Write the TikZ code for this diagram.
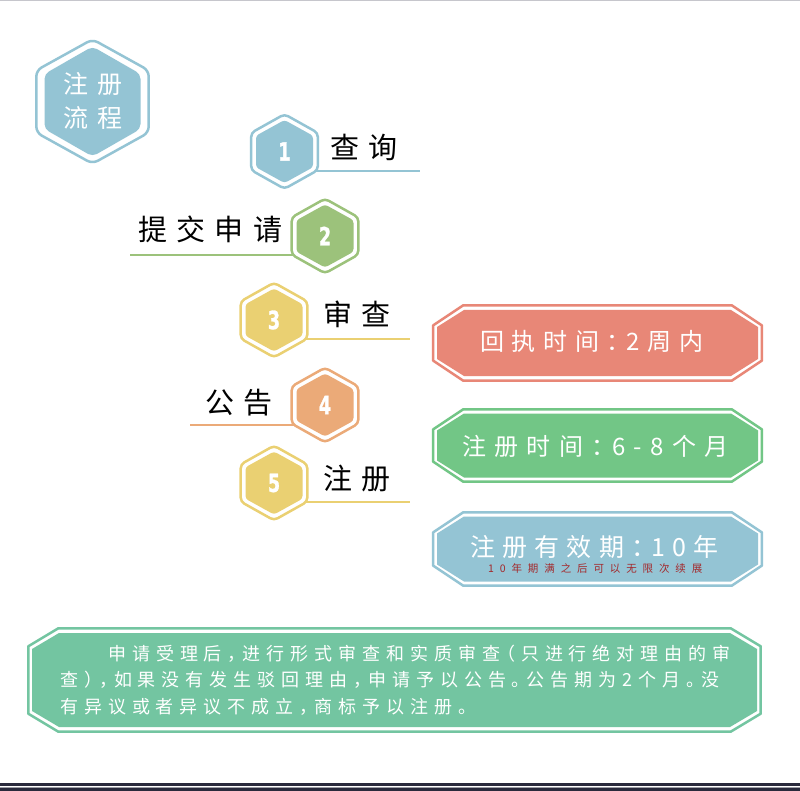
\documentclass[tikz,border=0pt]{standalone}
\usepackage{fontspec}
\newfontfamily\cjk{Noto Sans CJK SC}
\newfontfamily\numfont{DejaVu Sans}[FakeStretch=0.7,BoldFeatures={FakeBold=1.2}]
\definecolor{cblue}{HTML}{94C4D4}
\definecolor{cgreen}{HTML}{9CC27B}
\definecolor{cyellow}{HTML}{EAD072}
\definecolor{corange}{HTML}{EBAA78}
\definecolor{cred}{HTML}{E88777}
\definecolor{cgbox}{HTML}{72C686}
\definecolor{cteal}{HTML}{73C5A1}
\definecolor{cdarkred}{HTML}{A3282B}
\definecolor{cbar}{HTML}{2A2A3C}
\definecolor{ctop}{HTML}{C6C6CC}
\newcommand\hexpath[4]{\path[#4] (#1) ++(0,-#3) -- ++(#2,#3/2) -- ++(0,#3) -- ++(-#2,#3/2) -- ++(-#2,-#3/2) -- ++(0,-#3) -- cycle;}
\newcommand\octpath[6]{\path[#6] (#1) ++(-#2+#4,-#3) -- ++(2*#2-2*#4,0) -- ++(#4,#5) -- ++(0,2*#3-2*#5) -- ++(-#4,#5) -- ++(-2*#2+2*#4,0) -- ++(-#4,-#5) -- ++(0,-2*#3+2*#5) -- cycle;}
\tikzset{
  outline/.style={fill=white,draw=#1,line width=2.5pt,line join=round},
  infill/.style={fill=#1},
  sline/.style={draw=#1,line width=2.5pt},
  lbl/.style={inner sep=0pt,anchor=base west,text=black,font=\cjk\fontsize{29}{29}\selectfont\addfontfeatures{LetterSpace=32}},
  num/.style={inner sep=0pt,text=white,font=\numfont\bfseries\fontsize{25}{25}\selectfont},
  wtxt/.style={inner sep=0pt,anchor=base west,text=white},
}
\begin{document}
\begin{tikzpicture}[x=1pt,y=-1pt]
\useasboundingbox (0,0) rectangle (800,791);
\fill[white] (0,0) rectangle (800,791);
\fill[ctop] (0,0) rectangle (800,1.3);
\fill[cbar] (0,783) rectangle (800,786);
\fill[cbar!45] (0,787) rectangle (800,788);
\fill[cbar] (0,788) rectangle (800,791);

% title hexagon
\coordinate (tc) at (92.5,101.5);
\hexpath{tc}{56.2}{62.2}{outline=cblue,rounded corners=6pt}
\hexpath{tc}{48}{55}{infill=cblue,rounded corners=5pt}
\node[wtxt,font=\cjk\fontsize{25}{25}\selectfont\addfontfeatures{LetterSpace=36}] (t1) at (63,93.5) {注册};
\node[wtxt,font=\cjk\fontsize{25}{25}\selectfont\addfontfeatures{LetterSpace=36}] (t2) at (63,127.5) {流程};

% step hex centres
\coordinate (c1) at (284.5,151.5);
\coordinate (c2) at (325,236);
\coordinate (c3) at (274,320);
\coordinate (c4) at (325,405);
\coordinate (c5) at (274,483);
\coordinate (e1) at (420,171);
\coordinate (e2) at (130,255);
\coordinate (e3) at (410,339);
\coordinate (e4) at (190,425);
\coordinate (e5) at (410,502);

% connector lines
\draw[sline=cblue] (c1 |- e1) -- (e1);
\draw[sline=cgreen] (c2 |- e2) -- (e2);
\draw[sline=cyellow] (c3 |- e3) -- (e3);
\draw[sline=corange] (c4 |- e4) -- (e4);
\draw[sline=cyellow] (c5 |- e5) -- (e5);

% hexagons
\hexpath{c1}{33.3}{37.3}{outline=cblue,rounded corners=4pt}
\hexpath{c1}{28.5}{31.5}{infill=cblue,rounded corners=3pt}
\hexpath{c2}{33.3}{37.3}{outline=cgreen,rounded corners=4pt}
\hexpath{c2}{28.5}{31.5}{infill=cgreen,rounded corners=3pt}
\hexpath{c3}{33.3}{37.3}{outline=cyellow,rounded corners=4pt}
\hexpath{c3}{28.5}{31.5}{infill=cyellow,rounded corners=3pt}
\hexpath{c4}{33.3}{37.3}{outline=corange,rounded corners=4pt}
\hexpath{c4}{28.5}{31.5}{infill=corange,rounded corners=3pt}
\hexpath{c5}{33.3}{37.3}{outline=cyellow,rounded corners=4pt}
\hexpath{c5}{28.5}{31.5}{infill=cyellow,rounded corners=3pt}

\node[num] (n1) at (c1) {1};
\node[num] (n2) at (c2) {2};
\node[num] (n3) at (c3) {3};
\node[num] (n4) at (c4) {4};
\node[num] (n5) at (c5) {5};

\node[lbl] (l1) at (330,159) {查询};
\node[lbl] (l2) at (138,241) {提交申请};
\node[lbl] (l3) at (323,326) {审查};
\node[lbl] (l4) at (205,413) {公告};
\node[lbl] (l5) at (323,489) {注册};

% right boxes
\coordinate (b1) at (597.5,343);
\coordinate (b2) at (597.5,445.5);
\coordinate (b3) at (597.5,549);
\octpath{b1}{164.3}{37.7}{30}{20}{outline=cred}
\octpath{b1}{160.5}{33}{27}{17}{infill=cred}
\octpath{b2}{164.3}{36.2}{30}{20}{outline=cgbox}
\octpath{b2}{160.5}{32}{27}{17}{infill=cgbox}
\octpath{b3}{164.3}{36.7}{30}{20}{outline=cblue}
\octpath{b3}{160.5}{32.5}{27}{17}{infill=cblue}
\node[wtxt,font=\cjk\fontsize{24}{24}\selectfont\addfontfeatures{LetterSpace=32,CharacterWidth=AlternateHalf}] (r1) at (480,351) {回执时间：2周内};
\node[wtxt,font=\cjk\fontsize{24}{24}\selectfont\addfontfeatures{LetterSpace=35,CharacterWidth=AlternateHalf}] (r2) at (462,455) {注册时间：6-8个月};
\node[wtxt,font=\cjk\fontsize{25}{25}\selectfont\addfontfeatures{LetterSpace=29,CharacterWidth=AlternateHalf}] (r3) at (470,556.5) {注册有效期：10年};
\node[inner sep=0pt,anchor=base west,text=cdarkred,font=\cjk\fontsize{10.5}{10.5}\selectfont\addfontfeatures{LetterSpace=56}] (r4) at (488,572) {10年期满之后可以无限次续展};

% bottom box
\coordinate (bb) at (394.5,680);
\octpath{bb}{366.2}{51.7}{30}{18}{outline=cteal}
\octpath{bb}{362.5}{47}{27}{16}{infill=cteal}
\tikzset{btxt/.style={inner sep=0pt,anchor=base west,text=white,font=\cjk\fontsize{18}{18}\selectfont\addfontfeatures{LetterSpace=33,CharacterWidth=AlternateHalf}}}
\node[btxt] (p1) at (108,660.3) {申请受理后，进行形式审查和实质审查（只进行绝对理由的审};
\node[btxt] (p2) at (60,686.8) {查），如果没有发生驳回理由，申请予以公告。公告期为2个月。没};
\node[btxt] (p3) at (60,713.3) {有异议或者异议不成立，商标予以注册。};
\end{tikzpicture}
\end{document}
